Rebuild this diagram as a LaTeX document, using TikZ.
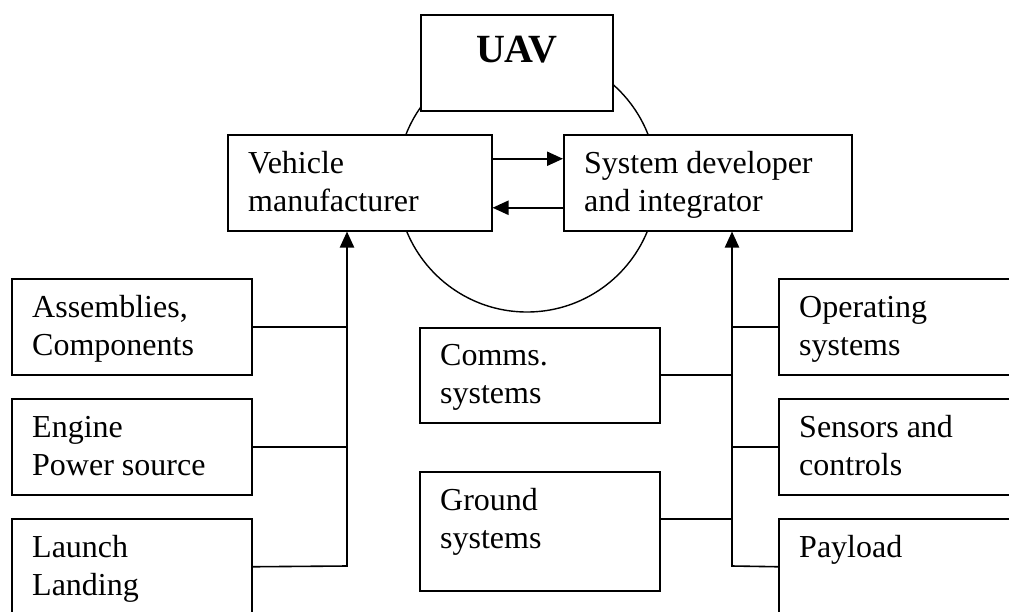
\documentclass[tikz,border=0pt]{standalone}
\usepackage{fontspec}
\setmainfont{Liberation Serif}
\usetikzlibrary{arrows.meta}
% two-line box captions, first baseline on the anchor
\newcommand\boxtext[1]{\parbox[t]{240pt}{\raggedright #1}}
\begin{document}
\begin{tikzpicture}[x=1pt,y=-1pt,
  box/.style={draw, line width=1.5pt, fill=white, inner sep=0pt, anchor=north west},
  lbl/.style={anchor=base west, inner sep=0pt, font=\fontsize{32}{38}\selectfont},
  link/.style={line width=1.6pt, line cap=rect},
  flow/.style={line width=2.2pt, -{Triangle[length=16pt,width=14pt]}}]
\useasboundingbox (0,0) rectangle (1009,611);
\clip (0,0) rectangle (1009,611);

% ring behind the two partners
\draw[line width=1.4pt] (527,182) circle[radius=130];

% top box
\node[box, minimum width=192, minimum height=96] (uav) at (420,14) {};
\node[anchor=base, inner sep=0pt, font=\fontsize{40}{46}\selectfont\bfseries]
  at ([yshift=-48pt]uav.north) {UAV};

% the two partners
\node[box, minimum width=264, minimum height=96] (vm) at (227,134) {};
\node[lbl] at ([shift={(21pt,-39pt)}]vm.north west) {\boxtext{Vehicle\\manufacturer}};
\node[box, minimum width=288, minimum height=96] (sd) at (563,134) {};
\node[lbl] at ([shift={(21pt,-39pt)}]sd.north west) {\boxtext{System developer\\and integrator}};

% suppliers to the vehicle manufacturer
\node[box, minimum width=240, minimum height=96] (asm) at (11,278) {};
\node[lbl] at ([shift={(21pt,-39pt)}]asm.north west) {\boxtext{Assemblies,\\Components}};
\node[box, minimum width=240, minimum height=96] (eng) at (11,398) {};
\node[lbl] at ([shift={(21pt,-39pt)}]eng.north west) {\boxtext{Engine\\Power source}};
\node[box, minimum width=240, minimum height=96] (lnd) at (11,518) {};
\node[lbl] at ([shift={(21pt,-39pt)}]lnd.north west) {\boxtext{Launch\\Landing}};

% suppliers to the system developer
\node[box, minimum width=240, minimum height=95] (com) at (419,327) {};
\node[lbl] at ([shift={(21pt,-38pt)}]com.north west) {\boxtext{Comms.\\systems}};
\node[box, minimum width=240, minimum height=119] (gnd) at (419,471) {};
\node[lbl] at ([shift={(21pt,-39pt)}]gnd.north west) {\boxtext{Ground\\systems}};
\node[box, minimum width=240, minimum height=96] (ops) at (778,278) {};
\node[lbl] at ([shift={(21pt,-39pt)}]ops.north west) {\boxtext{Operating\\systems}};
\node[box, minimum width=240, minimum height=96] (sen) at (778,398) {};
\node[lbl] at ([shift={(21pt,-39pt)}]sen.north west) {\boxtext{Sensors and\\controls}};
\node[box, minimum width=240, minimum height=96] (pay) at (778,518) {};
\node[lbl] at ([shift={(21pt,-39pt)}]pay.north west) {\boxtext{Payload}};

% exchange between the partners
\draw[flow] ([yshift=24pt]vm.east) -- ([yshift=24pt]sd.west);
\draw[flow] ([yshift=-25pt]sd.west) -- ([yshift=-25pt]vm.east);

% left supply trunk
\coordinate (lt) at (347,566);
\draw[link] (asm.east) -- (asm.east -| lt);
\draw[link] (eng.east) -- (eng.east -| lt);
\draw[link] (lnd.east) -- (lt);
\draw[flow] (lt) -- (lt |- vm.south);

% right supply trunk
\coordinate (rt) at (732,566);
\coordinate (gc) at ([yshift=-48pt]gnd.north east);
\draw[link] (ops.west) -- (ops.west -| rt);
\draw[link] (sen.west) -- (sen.west -| rt);
\draw[link] (pay.west) -- (rt);
\draw[link] (com.east) -- (com.east -| rt);
\draw[link] (gc) -- (gc -| rt);
\draw[flow] (rt) -- (rt |- sd.south);
\end{tikzpicture}
\end{document}
